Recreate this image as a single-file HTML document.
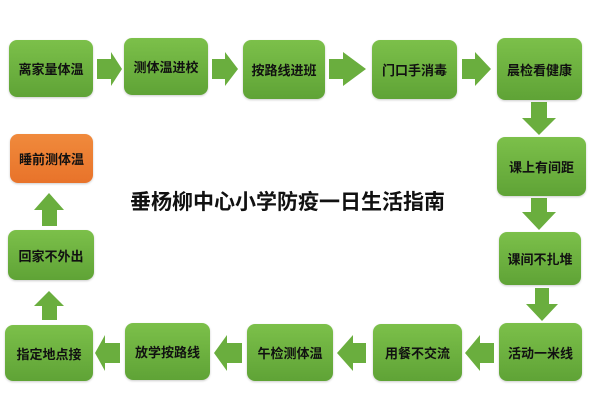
<!DOCTYPE html><html><head><meta charset="utf-8"><style>
body{margin:0;width:600px;height:400px;background:#fff;position:relative;overflow:hidden;font-family:"Liberation Sans","Noto Sans CJK SC",sans-serif}
.b{position:absolute;border-radius:8px;background:linear-gradient(#7cc04a,#5fa336);display:flex;align-items:center;justify-content:center;font-size:13px;font-weight:bold;color:#111;box-shadow:0 1px 2px rgba(0,0,0,.2)}
.o{background:linear-gradient(#f08a3c,#e8732a)}
svg{position:absolute;left:0;top:0}
</style></head><body>
<svg width="600" height="400" fill="#6aae3e">
<polygon points="97,59 111,59 111,52 122,69 111,86 111,79 97,79"/>
<polygon points="212,59 225,59 225,52 238,69 225,86 225,79 212,79"/>
<polygon points="329,59 343,59 343,52 366,69 343,86 343,79 329,79"/>
<polygon points="462,59 475,59 475,52 491,69 475,86 475,79 462,79"/>
<polygon points="531,102 547,102 547,118 556,118 539,135 522,118 531,118"/>
<polygon points="531,198 547,198 547,212 556,212 539,230 522,212 531,212"/>
<polygon points="535,288 549,288 549,304 558,304 542,321 526,304 535,304"/>
<polygon points="494,343 480,343 480,335 465,353 480,371 480,363 494,363"/>
<polygon points="366,343 353,343 353,335 337,353 353,371 353,363 366,363"/>
<polygon points="242,343 227,343 227,335 214,353 227,371 227,363 242,363"/>
<polygon points="120,343 105,343 105,335 95,353 105,371 105,363 120,363"/>
<polygon points="42,320 57,320 57,306 64,306 49,291 34,306 42,306"/>
<polygon points="42,226 57,226 57,210 64,210 49,193 34,210 42,210"/>
</svg>
<div class="b" style="left:9px;top:40px;width:84px;height:57px">离家量体温</div>
<div class="b" style="left:124px;top:38px;width:84px;height:57px">测体温进校</div>
<div class="b" style="left:243px;top:40px;width:82px;height:59px">按路线进班</div>
<div class="b" style="left:372px;top:40px;width:85px;height:59px">门口手消毒</div>
<div class="b" style="left:497px;top:38px;width:85px;height:62px">晨检看健康</div>
<div class="b" style="left:497px;top:137px;width:89px;height:59px">课上有间距</div>
<div class="b" style="left:499px;top:232px;width:82px;height:53px">课间不扎堆</div>
<div class="b" style="left:499px;top:323px;width:83px;height:58px">活动一米线</div>
<div class="b" style="left:373px;top:324px;width:89px;height:57px">用餐不交流</div>
<div class="b" style="left:247px;top:324px;width:86px;height:57px">午检测体温</div>
<div class="b" style="left:125px;top:323px;width:85px;height:57px">放学按路线</div>
<div class="b" style="left:5px;top:325px;width:88px;height:56px">指定地点接</div>
<div class="b" style="left:8px;top:230px;width:86px;height:50px">回家不外出</div>
<div class="b o" style="left:10px;top:134px;width:83px;height:49px">睡前测体温</div>
<div style="position:absolute;left:130px;top:186px;width:330px;font-size:21px;font-weight:bold;color:#111;letter-spacing:0px">垂杨柳中心小学防疫一日生活指南</div>
</body></html>
